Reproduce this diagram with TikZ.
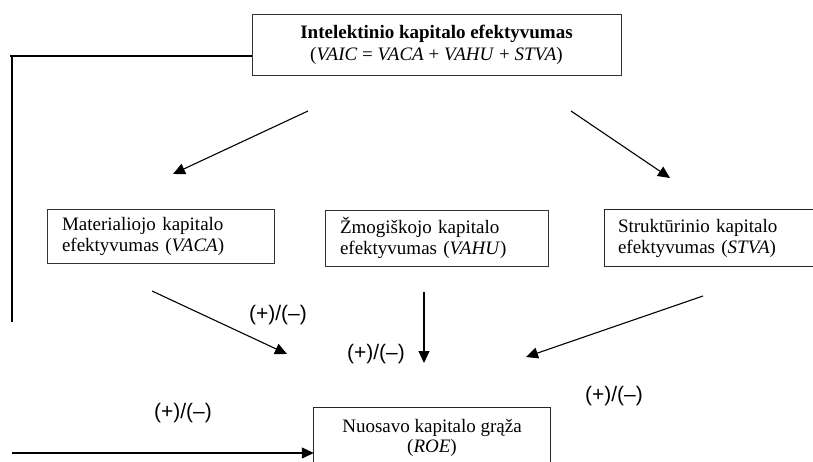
\documentclass[tikz,border=0pt]{standalone}
\usepackage{fontspec}
\setmainfont{Liberation Serif}
\newfontfamily\labfont{Liberation Sans}
\usetikzlibrary{arrows.meta}
\begin{document}
\begin{tikzpicture}[x=1pt,y=-1pt,
  txt/.style={font=\fontsize{19}{21}\selectfont},
  box/.style={txt, draw=black!80, line width=0.9pt, inner sep=0pt},
  openbox/.style={txt, inner sep=0pt},
  side/.style={draw=black!85, line width=0.9pt},
  arr/.style={-{Triangle[length=12pt,width=11pt]}, line width=1.1pt},
  lineconn/.style={line width=1.6pt},
  lab/.style={font=\labfont\fontsize{21}{23}\selectfont, inner sep=0pt}]
\useasboundingbox (0,0) rectangle (813,462);
% top box
\node[box, minimum width=369pt, minimum height=61pt, align=center,
  font=\fontsize{19}{22}\selectfont] (top) at (436.5,44.5)
  {\textbf{Intelektinio kapitalo efektyvumas}\\(\textit{VAIC} = \textit{VACA} + \textit{VAHU} + \textit{STVA})};
% middle boxes
\node[box, minimum width=227pt, minimum height=54pt, text width=197pt, inner xsep=15pt, align=left] (vaca) at (160.5,236.5)
  {\mbox{Materialiojo kapitalo}\\\mbox{efektyvumas (\textit{VACA})}};
\node[box, minimum width=223pt, minimum height=56pt, text width=193pt, inner xsep=15pt, align=left] (vahu) at (436.5,238)
  {\mbox{Žmogiškojo kapitalo}\\\mbox{efektyvumas (\textit{VAHU})}};
\node[openbox, minimum width=208pt, minimum height=56pt, text width=182pt, inner xsep=13pt, align=left] (stva) at (709,238)
  {\mbox{Struktūrinio kapitalo}\\\mbox{efektyvumas (\textit{STVA})}};
\draw[side] (stva.north east) -- (stva.north west) -- (stva.south west) -- (stva.south east);
% bottom box (open at the bottom)
\node[openbox, minimum width=236pt, minimum height=60pt, align=center,
  font=\fontsize{19}{20}\selectfont] (roe) at (432,438)
  {Nuosavo kapitalo grąža\\(\textit{ROE})};
\draw[side] (roe.south west) -- (roe.north west) -- (roe.north east) -- (roe.south east);
% left feedback line
\coordinate (hl) at (10,56);
\coordinate (v1) at (12,57);
\coordinate (v2) at (12,322);
\coordinate (b1) at (12,453);
\draw[lineconn] (top.west |- hl) -- (hl);
\draw[line width=1.2pt] (v1) -- (v2);
\draw[arr] (b1) -- (roe.west |- b1);
% arrows from top box
\coordinate (t1) at (308,111);
\coordinate (t1e) at (173,174);
\coordinate (t2) at (571,111);
\coordinate (t2e) at (670,178);
\draw[arr] (t1) -- (t1e);
\draw[arr] (t2) -- (t2e);
% arrows to the centre
\coordinate (m1) at (152,291);
\coordinate (m1e) at (287,354);
\coordinate (m2) at (424,292);
\coordinate (m2e) at (424,363);
\coordinate (m3) at (703,296);
\coordinate (m3e) at (526,357);
\draw[arr] (m1) -- (m1e);
\draw[arr] (m2) -- (m2e);
\draw[arr] (m3) -- (m3e);
% labels
\node[lab] (l1) at (278,315) {(+)/(–)};
\node[lab] (l2) at (376,354) {(+)/(–)};
\node[lab] (l3) at (614,396) {(+)/(–)};
\node[lab] (l4) at (183,413) {(+)/(–)};
\end{tikzpicture}
\end{document}
